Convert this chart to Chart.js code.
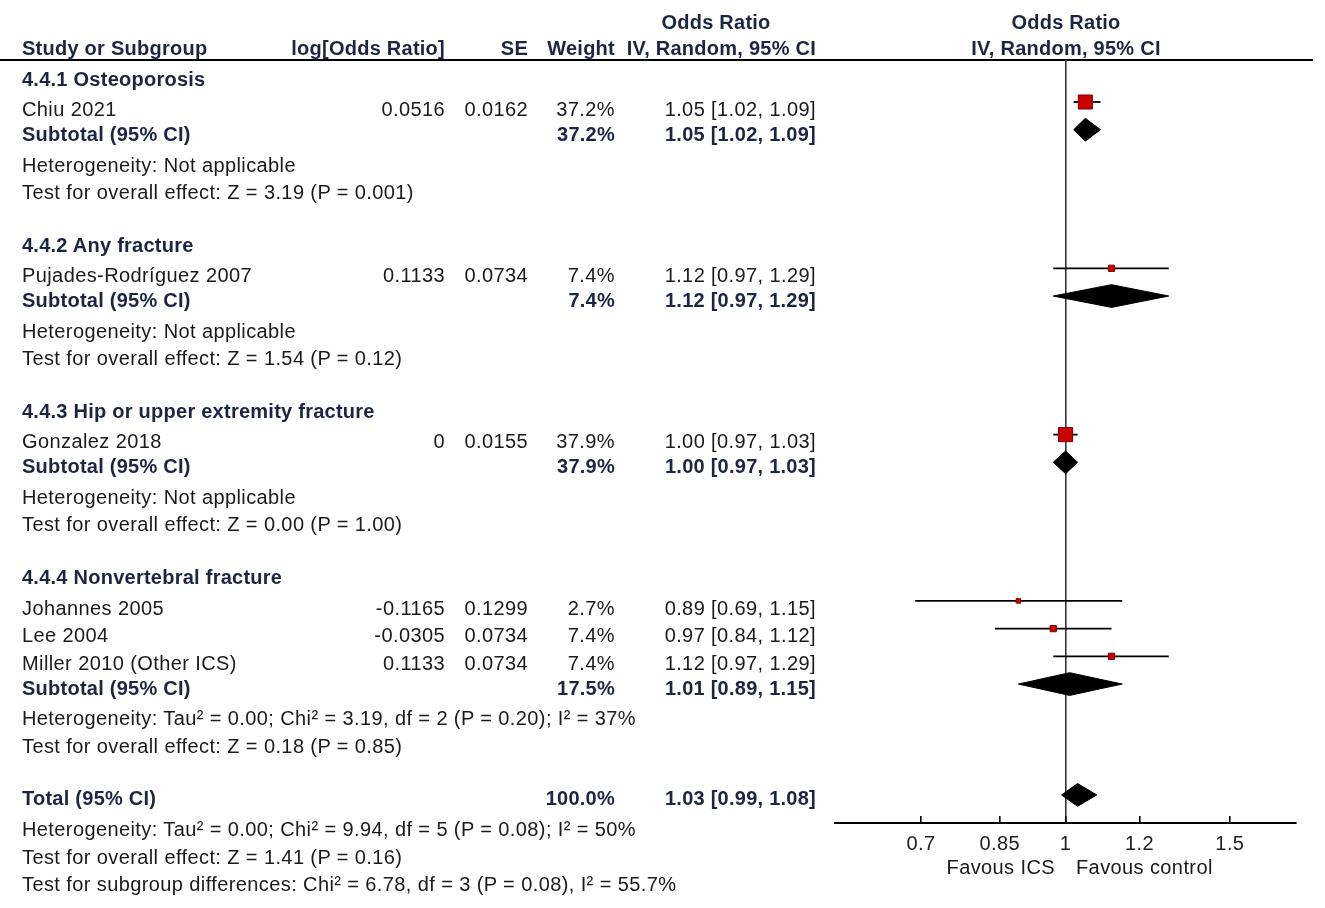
<!DOCTYPE html>
<html>
<head>
<meta charset="utf-8">
<title>Forest plot - ICS and fracture</title>
<script src="https://cdn.jsdelivr.net/npm/chart.js@4.4.0/dist/chart.umd.min.js"></script>
<style>
  html, body { margin: 0; padding: 0; background: #fff; }
  #page {
    position: relative; width: 1325px; height: 908px; overflow: hidden;
    font-family: "Liberation Sans", Arial, sans-serif; font-size: 20px;
    color: #1a1a1a; letter-spacing: 0.4px;
  }
  .t { position: absolute; white-space: nowrap; height: 28px; line-height: 28px; }
  .b { font-weight: bold; color: #1c2541; letter-spacing: 0.25px; }
  #rule { position: absolute; left: 0; top: 59px; width: 1313px; height: 2px; background: #000; }
  #chartBox { position: absolute; left: 0; top: 0; width: 1325px; height: 908px; }
</style>
</head>
<body>
<div id="page">
  <div id="rule"></div>
  <div id="chartBox"><canvas id="forestChart"></canvas></div>
</div>
<script>
// Studies
const studies = ["Chiu 2021", "Pujades-Rodríguez 2007", "Gonzalez 2018", "Johannes 2005", "Lee 2004", "Miller 2010 (Other ICS)"];
const studyGroup = [0, 1, 2, 3, 3, 3];
const logOR = ["0.0516", "0.1133", "0", "-0.1165", "-0.0305", "0.1133"];
const se = ["0.0162", "0.0734", "0.0155", "0.1299", "0.0734", "0.0734"];
const weights = [37.2, 7.4, 37.9, 2.7, 7.4, 7.4];
const oddsRatio = [1.05, 1.12, 1.00, 0.89, 0.97, 1.12];
const lower = [1.02, 0.97, 0.97, 0.69, 0.84, 0.97];
const upper = [1.09, 1.29, 1.03, 1.15, 1.12, 1.29];

// Subgroups
const groups = ["4.4.1 Osteoporosis", "4.4.2 Any fracture", "4.4.3 Hip or upper extremity fracture", "4.4.4 Nonvertebral fracture"];
const subWeight = [37.2, 7.4, 37.9, 17.5];
const subOR = [1.05, 1.12, 1.00, 1.01];
const subLower = [1.02, 0.97, 0.97, 0.89];
const subUpper = [1.09, 1.29, 1.03, 1.15];
const subHet = [
  "Heterogeneity: Not applicable",
  "Heterogeneity: Not applicable",
  "Heterogeneity: Not applicable",
  "Heterogeneity: Tau² = 0.00; Chi² = 3.19, df = 2 (P = 0.20); I² = 37%"
];
const subTest = [
  "Test for overall effect: Z = 3.19 (P = 0.001)",
  "Test for overall effect: Z = 1.54 (P = 0.12)",
  "Test for overall effect: Z = 0.00 (P = 1.00)",
  "Test for overall effect: Z = 0.18 (P = 0.85)"
];

// Overall
const totalWeight = 100.0;
const totalOR = 1.03;
const totalLower = 0.99;
const totalUpper = 1.08;
const totalNotes = [
  "Heterogeneity: Tau² = 0.00; Chi² = 9.94, df = 5 (P = 0.08); I² = 50%",
  "Test for overall effect: Z = 1.41 (P = 0.16)",
  "Test for subgroup differences: Chi² = 6.78, df = 3 (P = 0.08), I² = 55.7%"
];

// Axis
const xTicks = [0.7, 0.85, 1, 1.2, 1.5];
const xMin = 0.566;
const xMax = 1.766;
const sideLabels = ["Favous ICS", "Favous control"];

// layout (pixels)
const ROW_H = 27.68, ROW0 = 46.6;
const PLOT_TOP = 60, PLOT_BOTTOM = 822;
const COL_NAME = 22, COL_LOG = 445, COL_SE = 528, COL_W = 615, COL_CI = 816;

const page = document.getElementById("page");

function addText(text, x, cy, align, bold) {
  const d = document.createElement("div");
  d.className = "t" + (bold ? " b" : "");
  d.textContent = text;
  d.style.top = (cy - 14) + "px";
  if (align === "right") {
    d.style.left = (x - 500) + "px"; d.style.width = "500px"; d.style.textAlign = "right";
  } else if (align === "center") {
    d.style.left = (x - 250) + "px"; d.style.width = "500px"; d.style.textAlign = "center";
  } else {
    d.style.left = x + "px";
  }
  page.appendChild(d);
}

function rowY(r, bold) {
  return ROW0 + ROW_H * r + (bold ? 4.5 : 7.3);
}

function ci(est, lo, hi) {
  return est.toFixed(2) + " [" + lo.toFixed(2) + ", " + hi.toFixed(2) + "]";
}

// header
addText("Odds Ratio", 716, 22, "center", true);
addText("Study or Subgroup", COL_NAME, 48, "left", true);
addText("log[Odds Ratio]", COL_LOG, 48, "right", true);
addText("SE", COL_SE, 48, "right", true);
addText("Weight", COL_W, 48, "right", true);
addText("IV, Random, 95% CI", COL_CI, 48, "right", true);
addText("Odds Ratio", 1066, 22, "center", true);
addText("IV, Random, 95% CI", 1066, 48, "center", true);

// table rows
const studyRow = [];
const subRow = [];
let r = 1;
groups.forEach((g, gi) => {
  addText(g, COL_NAME, rowY(r, true), "left", true);
  r++;
  studies.forEach((s, i) => {
    if (studyGroup[i] !== gi) return;
    const y = rowY(r, false);
    addText(s, COL_NAME, y, "left", false);
    addText(logOR[i], COL_LOG, y, "right", false);
    addText(se[i], COL_SE, y, "right", false);
    addText(weights[i].toFixed(1) + "%", COL_W, y, "right", false);
    addText(ci(oddsRatio[i], lower[i], upper[i]), COL_CI, y, "right", false);
    studyRow[i] = r++;
  });
  const ys = rowY(r, true);
  addText("Subtotal (95% CI)", COL_NAME, ys, "left", true);
  addText(subWeight[gi].toFixed(1) + "%", COL_W, ys, "right", true);
  addText(ci(subOR[gi], subLower[gi], subUpper[gi]), COL_CI, ys, "right", true);
  subRow[gi] = r++;
  addText(subHet[gi], COL_NAME, rowY(r++, false), "left", false);
  addText(subTest[gi], COL_NAME, rowY(r++, false), "left", false);
  r++;
});
const totalRow = r;
addText("Total (95% CI)", COL_NAME, rowY(r, true), "left", true);
addText(totalWeight.toFixed(1) + "%", COL_W, rowY(r, true), "right", true);
addText(ci(totalOR, totalLower, totalUpper), COL_CI, rowY(r, true), "right", true);
r++;
totalNotes.forEach(n => addText(n, COL_NAME, rowY(r++, false), "left", false));

// side labels under the axis
addText(sideLabels[0], 1055, 867, "right", false);
addText(sideLabels[1], 1076, 867, "left", false);

// y scale in row units so that rows line up with the table
const yMin = (PLOT_TOP - ROW0) / ROW_H;
const yMax = yMin + (PLOT_BOTTOM - PLOT_TOP) / ROW_H;

const DIAMOND_H = 0.41;
function diamond(est, lo, hi, row) {
  return [
    { x: lo, y: row },
    { x: est, y: row - DIAMOND_H },
    { x: hi, y: row },
    { x: est, y: row + DIAMOND_H },
    { x: lo, y: row }
  ];
}

const datasets = [];
// study boxes (on top)
const boxRadius = weights.map(w => Math.max(4.5, 2.3 * Math.sqrt(w)) / Math.SQRT2);
datasets.push({
  type: "scatter",
  data: studies.map((s, i) => ({ x: oddsRatio[i], y: studyRow[i] })),
  pointStyle: "rect",
  pointRadius: boxRadius,
  pointHoverRadius: boxRadius,
  backgroundColor: "#cc0000",
  borderColor: "#7a0000",
  borderWidth: 1
});
// confidence intervals
studies.forEach((s, i) => {
  datasets.push({
    type: "line",
    data: [{ x: lower[i], y: studyRow[i] }, { x: upper[i], y: studyRow[i] }],
    borderColor: "#000",
    borderWidth: 1.8,
    pointRadius: 0,
    fill: false
  });
});
// subtotal and total diamonds
groups.forEach((g, gi) => {
  datasets.push({
    type: "line",
    data: diamond(subOR[gi], subLower[gi], subUpper[gi], subRow[gi]),
    borderColor: "#000",
    backgroundColor: "#000",
    borderWidth: 1,
    pointRadius: 0,
    tension: 0,
    fill: "shape"
  });
});
datasets.push({
  type: "line",
  data: diamond(totalOR, totalLower, totalUpper, totalRow),
  borderColor: "#000",
  backgroundColor: "#000",
  borderWidth: 1,
  pointRadius: 0,
  tension: 0,
  fill: "shape"
});

const ctx = document.getElementById("forestChart").getContext("2d");
new Chart(ctx, {
  type: "scatter",
  data: { datasets: datasets },
  options: {
    responsive: true,
    maintainAspectRatio: false,
    animation: false,
    layout: { padding: { left: 835, right: 29, top: PLOT_TOP, bottom: 36 } },
    plugins: { legend: { display: false }, tooltip: { enabled: false } },
    scales: {
      x: {
        type: "logarithmic",
        min: xMin,
        max: xMax,
        afterBuildTicks: function (scale) {
          scale.ticks = xTicks.map(v => ({ value: v }));
        },
        ticks: {
          autoSkip: false,
          maxRotation: 0,
          padding: 16,
          color: "#222",
          font: { family: "'Liberation Sans', Arial, sans-serif", size: 20 },
          callback: function (value) {
            return String(value);
          }
        },
        grid: {
          drawOnChartArea: true,
          color: function (c) {
            return c.tick && c.tick.value === 1 ? "#333" : "rgba(0,0,0,0)";
          },
          lineWidth: 1.6,
          tickColor: "#000",
          tickWidth: 1.6,
          tickLength: -7
        },
        border: { color: "#000", width: 2 }
      },
      y: {
        type: "linear",
        reverse: true,
        min: yMin,
        max: yMax,
        display: false
      }
    }
  }
});
</script>
</body>
</html>
